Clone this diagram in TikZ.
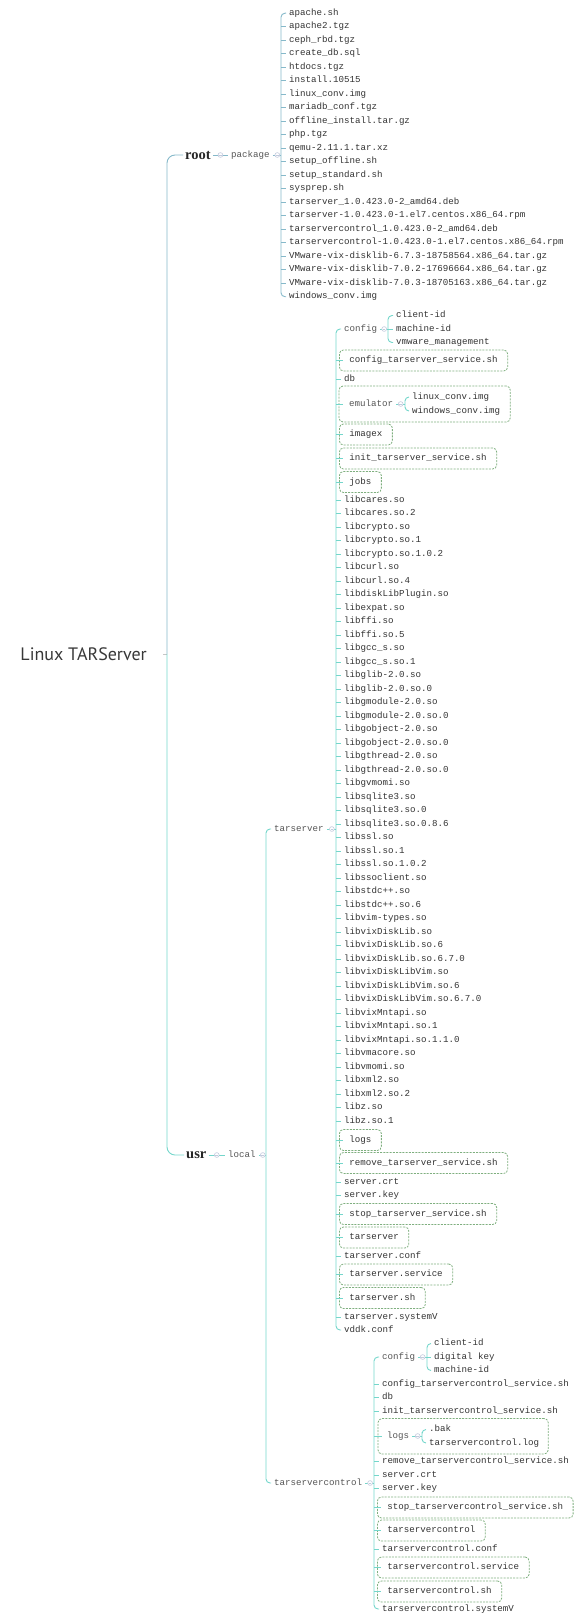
\documentclass[tikz,border=0pt]{standalone}
\usepackage{fontspec}
\setmonofont{Liberation Mono}
\newfontfamily\titlefont{PT Sans}
\newfontfamily\rootfont{Liberation Serif}
\usetikzlibrary{calc,fit}
\definecolor{rootclr}{HTML}{86B9CA}
\definecolor{usrclr}{HTML}{74D6CB}
\definecolor{boxclr}{HTML}{7FAF7F}
\definecolor{foldclr}{HTML}{C3CADD}
\definecolor{txtclr}{HTML}{333333}
\definecolor{lblclr}{HTML}{555555}
\newcommand\foldmark[1]{%
  \draw[foldclr,fill=white,line width=.6pt] (#1) circle (2.4pt);
  \draw[foldclr,line width=.6pt] (#1) ++(-1.3pt,0) -- ++(2.6pt,0);}

\begin{document}
\begin{tikzpicture}[x=1pt,y=-1pt,
  leaf/.style={anchor=west,inner xsep=3pt,inner ysep=1pt,text height=6.5pt,text depth=2pt,
    font=\ttfamily\fontsize{9.15}{10}\selectfont,text=txtclr},
  lbl/.style={leaf,text=lblclr},
  fbox/.style={leaf,draw=boxclr,dash pattern=on 2pt off 1.2pt,rounded corners=4pt,
    line width=.8pt,inner xsep=10pt,minimum height=21pt},
  dbox/.style={draw=boxclr,dash pattern=on 2pt off 1.2pt,rounded corners=4pt,line width=.8pt},
  rootedge/.style={draw=rootclr,line width=.9pt,rounded corners=4pt},
  usredge/.style={draw=usrclr,line width=.9pt,rounded corners=4pt},
  into/.style={shorten >=-4pt},
  topdir/.style={anchor=west,inner xsep=2pt,font=\rootfont\bfseries\fontsize{14.5}{16}\selectfont,text=black!85}]
\useasboundingbox (0,0) rectangle (582,1624);

% main branch
\node[anchor=east,inner xsep=16pt,font=\titlefont\fontsize{18}{20}\selectfont,text=black!78] (title) at (163,654) {Linux TARServer};
\coordinate (mJ) at (167,654);
\node[topdir] (root) at (183,155) {root};
\node[topdir] (usr) at (184,1155) {usr};
\draw[draw=gray!45,line width=.9pt] (title.east) -- (mJ);
\draw[rootedge,rounded corners=8pt] (mJ) |- (root.west);
\draw[usredge,rounded corners=8pt] (mJ) |- (usr.west);

% root/package
\node[lbl] (pkg) at (228,155) {package};
\coordinate (pkJ) at (281,155);
\draw[rootedge] (root.east) -- (pkg.west);
\draw[rootedge] (pkg.east) -- (pkJ);
\foreach \fname [count=\i] in {apache.sh, apache2.tgz, ceph\_rbd.tgz, create\_db.sql, htdocs.tgz,
  install.10515, linux\_conv.img, mariadb\_conf.tgz, offline\_install.tar.gz, php.tgz,
  qemu-2.11.1.tar.xz, setup\_offline.sh, setup\_standard.sh, sysprep.sh,
  tarserver\_1.0.423.0-2\_amd64.deb, tarserver-1.0.423.0-1.el7.centos.x86\_64.rpm,
  tarservercontrol\_1.0.423.0-2\_amd64.deb, tarservercontrol-1.0.423.0-1.el7.centos.x86\_64.rpm,
  VMware-vix-disklib-6.7.3-18758564.x86\_64.tar.gz, VMware-vix-disklib-7.0.2-17696664.x86\_64.tar.gz,
  VMware-vix-disklib-7.0.3-18705163.x86\_64.tar.gz, windows\_conv.img}
  \node[leaf] (pk\i) at (286,{13.2+13.5*(\i-1)}) {\fname};
\draw[rootedge] (pk1.west) -| (pkJ) |- (pk22.west);
\foreach \i in {2,...,21} \draw[rootedge] (pkJ |- pk\i.west) -- (pk\i.west);
\foldmark{$(root.east)!.5!(pkg.west)$}
\foldmark{$(pkg.east)!.55!(pkJ)$}

% usr/local
\node[lbl] (local) at (225,1155) {local};
\coordinate (lcJ) at (266,1155);
\node[lbl] (tsLbl) at (271,829) {tarserver};
\node[lbl] (tscLbl) at (271,1483) {tarservercontrol};
\draw[usredge] (usr.east) -- (local.west);
\draw[usredge] (local.east) -- (lcJ);
\draw[usredge] (tsLbl.west) -| (lcJ) |- (tscLbl.west);
\foldmark{$(usr.east)!.5!(local.west)$}
\foldmark{$(local.east)!.55!(lcJ)$}

% tarserver
\coordinate (tsJ) at (336,829);
\draw[usredge] (tsLbl.east) -- (tsJ);
\node[lbl] (tsCfg) at (341,329) {config};
\coordinate (tsCfgJ) at (388,329);
\foreach \n/\y/\fname in {1/315.5/client-id, 2/329/machine-id, 3/342.5/vmware\_management}
  \node[leaf] (tsCfg\n) at (393,\y) {\fname};
\draw[usredge] (tsCfg.east) -- (tsCfgJ);
\draw[usredge] (tsCfg1.west) -| (tsCfgJ) |- (tsCfg3.west);
\draw[usredge] (tsCfgJ |- tsCfg2.west) -- (tsCfg2.west);
\foldmark{$(tsCfg.east)!.5!(tsCfgJ)$}

\node[lbl] (tsEmu) at (346,404) {emulator};
\coordinate (tsEmuJ) at (405,404);
\node[leaf] (tsEmu1) at (409,397) {linux\_conv.img};
\node[leaf] (tsEmu2) at (409,411) {windows\_conv.img};
\draw[usredge] (tsEmu.east) -- (tsEmuJ);
\draw[usredge] (tsEmu1.west) -| (tsEmuJ) |- (tsEmu2.west);
\foldmark{$(tsEmu.east)!.5!(tsEmuJ)$}
\node[dbox,fit=(tsEmu)(tsEmu1)(tsEmu2),inner xsep=7pt,inner ysep=5.5pt] (tsEmuBox) {};

\foreach \n/\y/\fname in {1/360.5/config\_tarserver\_service.sh, 2/434.5/imagex,
  3/458.5/init\_tarserver\_service.sh, 4/482/jobs, 5/1140/logs,
  6/1163/remove\_tarserver\_service.sh, 7/1214/stop\_tarserver\_service.sh,
  8/1237.5/tarserver, 9/1274.5/tarserver.service, 10/1298/tarserver.sh}
  \node[fbox] (tsB\n) at (339,\y) {\fname};
\foreach \n/\y/\fname in {Db/379/db, Crt/1182/server.crt, Key/1195.5/server.key,
  Conf/1256/tarserver.conf, SysV/1317/tarserver.systemV, Vddk/1330/vddk.conf}
  \node[leaf] (ts\n) at (341,\y) {\fname};
\foreach \fname [count=\i] in {libcares.so, libcares.so.2, libcrypto.so, libcrypto.so.1,
  libcrypto.so.1.0.2, libcurl.so, libcurl.so.4, libdiskLibPlugin.so, libexpat.so, libffi.so,
  libffi.so.5, libgcc\_s.so, libgcc\_s.so.1, libglib-2.0.so, libglib-2.0.so.0,
  libgmodule-2.0.so, libgmodule-2.0.so.0, libgobject-2.0.so, libgobject-2.0.so.0,
  libgthread-2.0.so, libgthread-2.0.so.0, libgvmomi.so, libsqlite3.so, libsqlite3.so.0,
  libsqlite3.so.0.8.6, libssl.so, libssl.so.1, libssl.so.1.0.2, libssoclient.so,
  libstdc++.so, libstdc++.so.6, libvim-types.so, libvixDiskLib.so, libvixDiskLib.so.6,
  libvixDiskLib.so.6.7.0, libvixDiskLibVim.so, libvixDiskLibVim.so.6,
  libvixDiskLibVim.so.6.7.0, libvixMntapi.so, libvixMntapi.so.1, libvixMntapi.so.1.1.0,
  libvmacore.so, libvmomi.so, libxml2.so, libxml2.so.2, libz.so, libz.so.1}
  \node[leaf] (tsL\i) at (341,{500+13.5*(\i-1)}) {\fname};

\draw[usredge] (tsCfg.west) -| (tsJ) |- (tsVddk.west);
\foreach \c in {tsDb,tsCrt,tsKey,tsConf,tsSysV} \draw[usredge] (tsJ |- \c.west) -- (\c.west);
\foreach \i in {1,...,47} \draw[usredge] (tsJ |- tsL\i.west) -- (tsL\i.west);
\foreach \n in {1,...,10} \draw[usredge,into] (tsJ |- tsB\n.west) -- (tsB\n.west);
\draw[usredge,into] (tsJ |- tsEmuBox.west) -- (tsEmuBox.west);
\foldmark{$(tsLbl.east)!.55!(tsJ)$}

% tarservercontrol
\coordinate (tscJ) at (374,1483);
\draw[usredge] (tscLbl.east) -- (tscJ);
\node[lbl] (tscCfg) at (379,1357) {config};
\coordinate (tscCfgJ) at (427,1357);
\foreach \n/\y/\fname in {1/1343.5/client-id, 2/1357/digital key, 3/1370.5/machine-id}
  \node[leaf] (tscCfg\n) at (431,\y) {\fname};
\draw[usredge] (tscCfg.east) -- (tscCfgJ);
\draw[usredge] (tscCfg1.west) -| (tscCfgJ) |- (tscCfg3.west);
\draw[usredge] (tscCfgJ |- tscCfg2.west) -- (tscCfg2.west);
\foldmark{$(tscCfg.east)!.5!(tscCfgJ)$}

\node[lbl] (tscLog) at (384,1436) {logs};
\coordinate (tscLogJ) at (422,1436);
\node[leaf] (tscLog1) at (426,1429.5) {.bak};
\node[leaf] (tscLog2) at (426,1443) {tarservercontrol.log};
\draw[usredge] (tscLog.east) -- (tscLogJ);
\draw[usredge] (tscLog1.west) -| (tscLogJ) |- (tscLog2.west);
\foldmark{$(tscLog.east)!.55!(tscLogJ)$}
\node[dbox,fit=(tscLog)(tscLog1)(tscLog2),inner xsep=6pt,inner ysep=5.5pt] (tscLogBox) {};

\foreach \n/\y/\fname in {Cs/1384/config\_tarservercontrol\_service.sh, Db/1397.5/db,
  Init/1411/init\_tarservercontrol\_service.sh, Rm/1461/remove\_tarservercontrol\_service.sh,
  Crt/1475/server.crt, Key/1488/server.key, Conf/1549/tarservercontrol.conf,
  SysV/1609/tarservercontrol.systemV}
  \node[leaf] (tsc\n) at (379,\y) {\fname};
\foreach \n/\y/\fname in {1/1507.5/stop\_tarservercontrol\_service.sh, 2/1530.5/tarservercontrol,
  3/1567.5/tarservercontrol.service, 4/1591.5/tarservercontrol.sh}
  \node[fbox] (tscB\n) at (377,\y) {\fname};

\draw[usredge] (tscCfg.west) -| (tscJ) |- (tscSysV.west);
\foreach \c in {tscCs,tscDb,tscInit,tscRm,tscCrt,tscKey,tscConf} \draw[usredge] (tscJ |- \c.west) -- (\c.west);
\foreach \n in {1,...,4} \draw[usredge,into] (tscJ |- tscB\n.west) -- (tscB\n.west);
\draw[usredge,into] (tscJ |- tscLogBox.west) -- (tscLogBox.west);
\foldmark{$(tscLbl.east)!.55!(tscJ)$}
\end{tikzpicture}
\end{document}
